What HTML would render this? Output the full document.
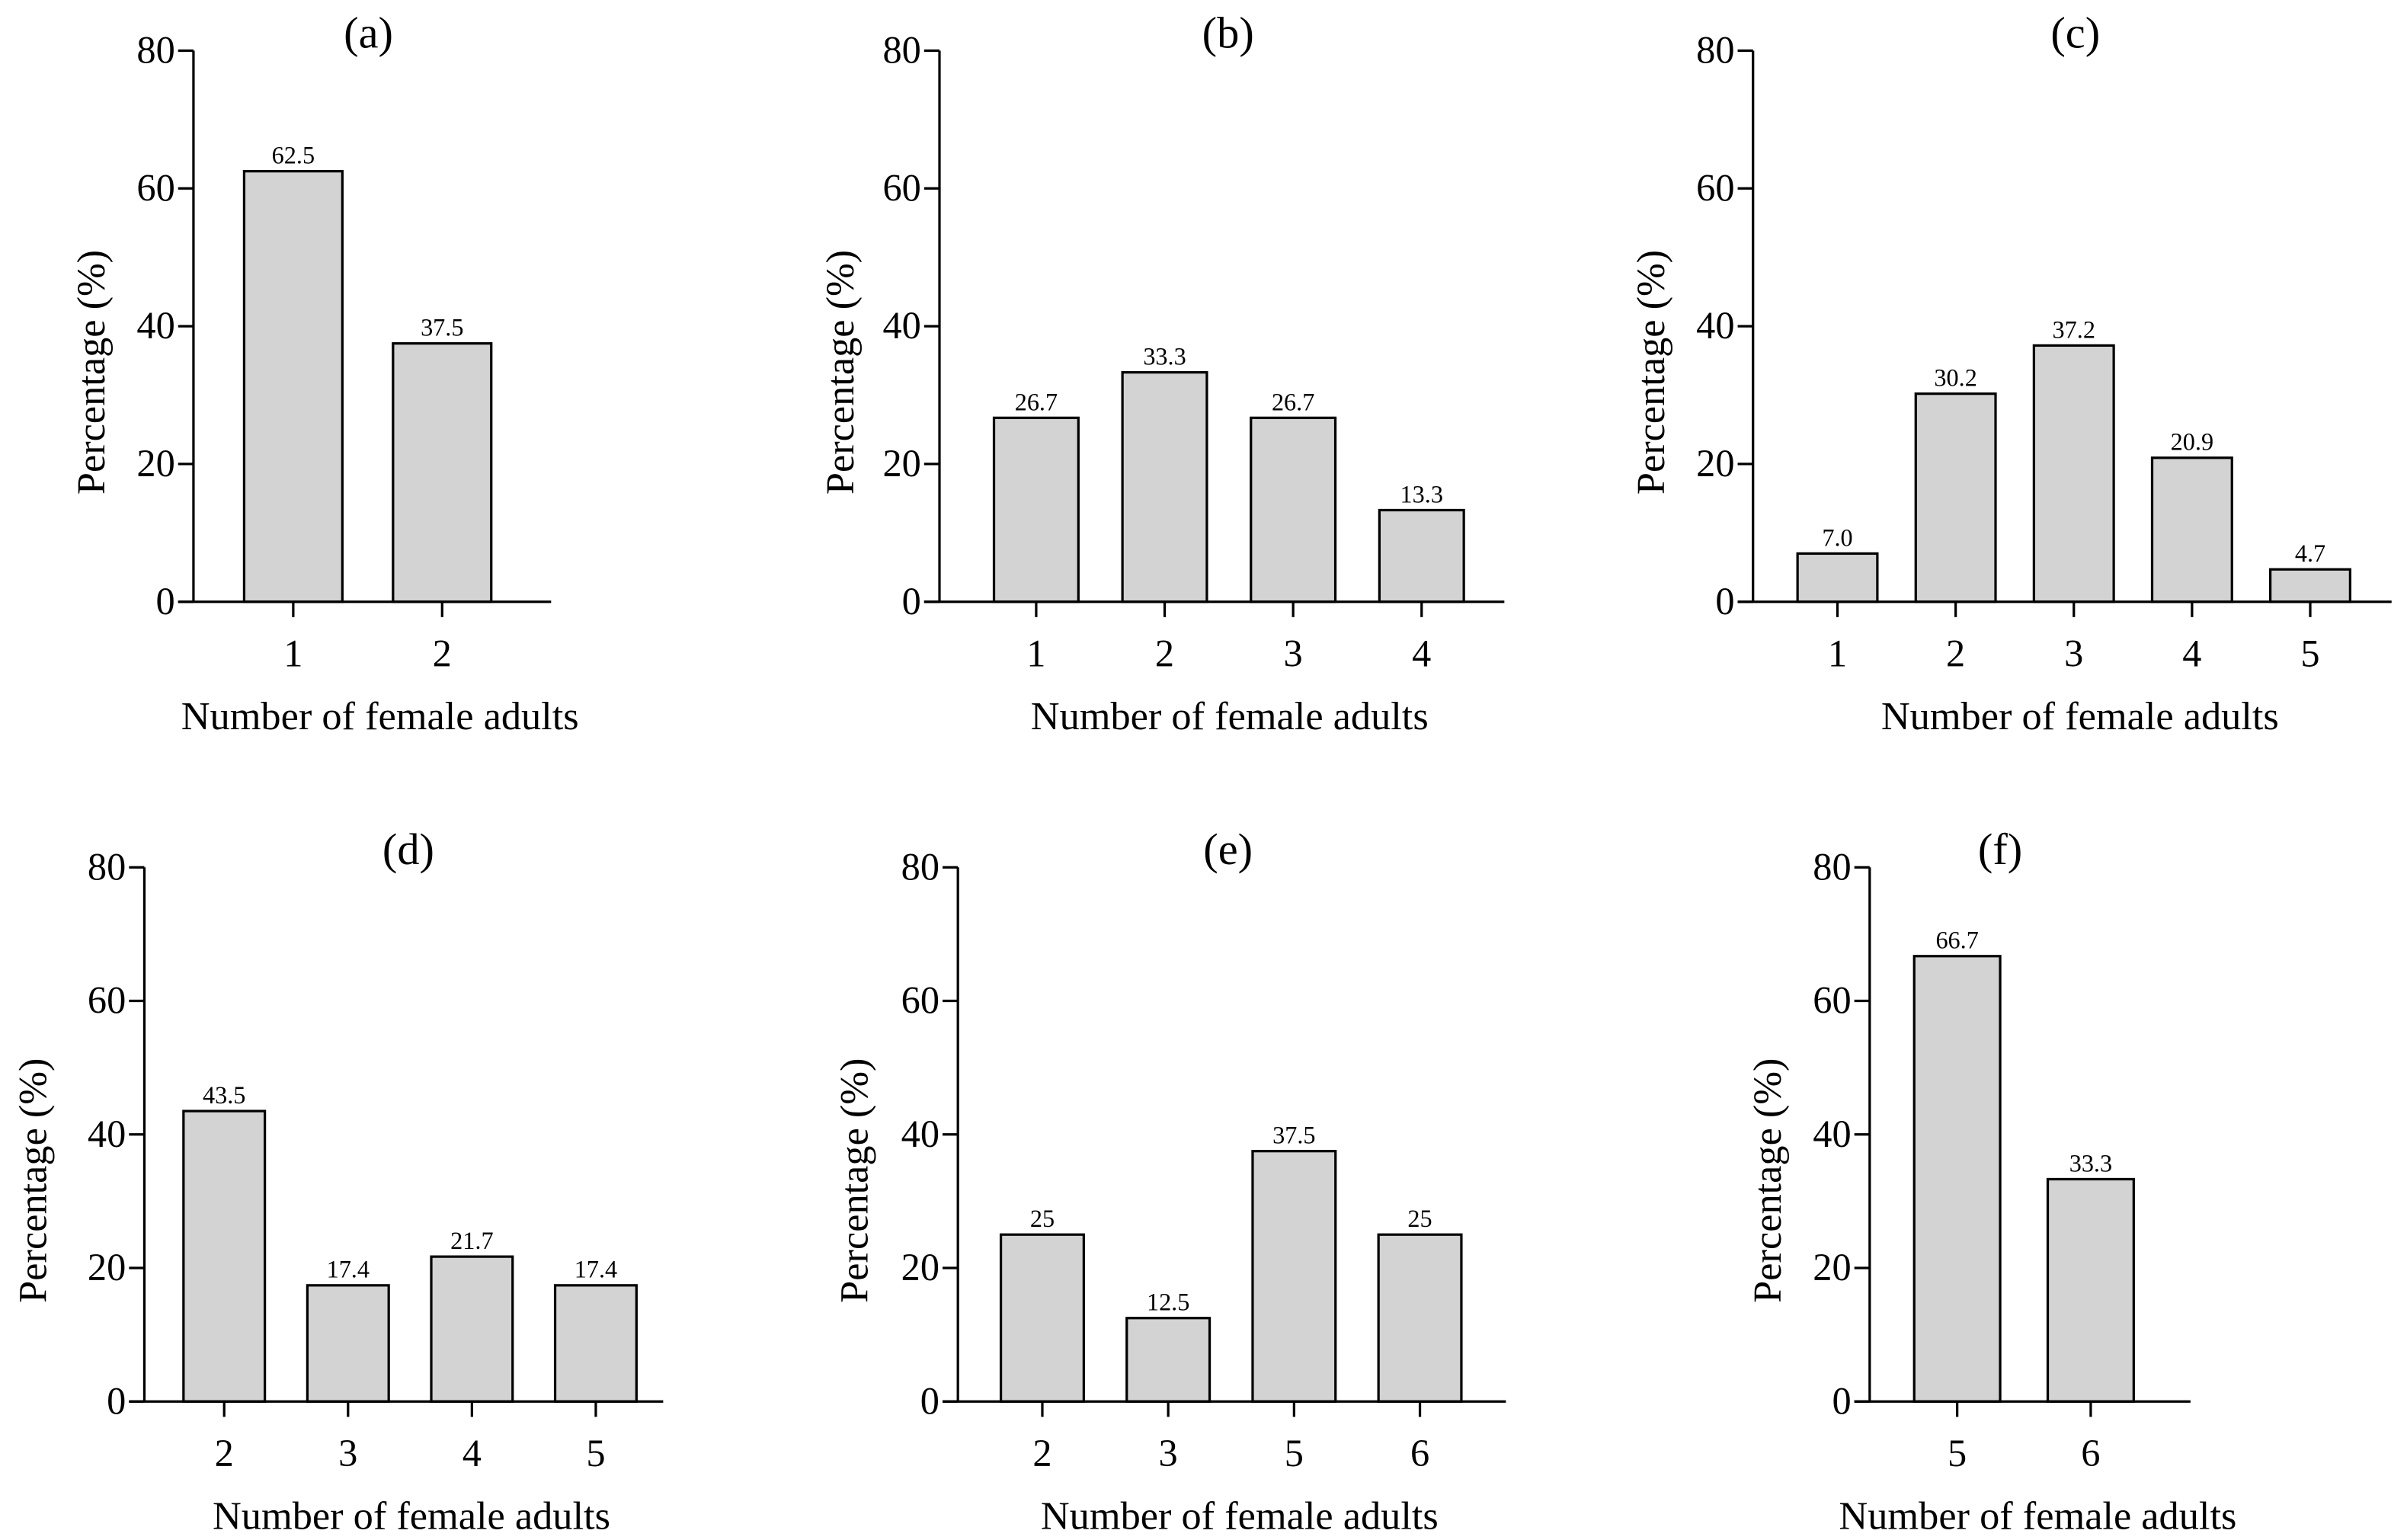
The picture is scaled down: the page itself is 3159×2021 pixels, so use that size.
<!DOCTYPE html>
<html><head><meta charset="utf-8"><style>
html,body{margin:0;padding:0;background:#fff}
svg{display:block}
svg text{font-family:"Liberation Serif","Times New Roman",serif;fill:#000}
</style></head><body>
<svg id="fig" width="3159" height="2021" viewBox="0 0 1568 1003.2" xmlns="http://www.w3.org/2000/svg" font-family="Liberation Serif, serif"></svg>
<script>
// ---- data ----
const catsA = ["1","2"];            const valsA = [62.5,37.5];            const labsA = ["62.5","37.5"];
const catsB = ["1","2","3","4"];    const valsB = [26.7,33.3,26.7,13.3];  const labsB = ["26.7","33.3","26.7","13.3"];
const catsC = ["1","2","3","4","5"];const valsC = [7.0,30.2,37.2,20.9,4.7];const labsC = ["7.0","30.2","37.2","20.9","4.7"];
const catsD = ["2","3","4","5"];    const valsD = [43.5,17.4,21.7,17.4];  const labsD = ["43.5","17.4","21.7","17.4"];
const catsE = ["2","3","5","6"];    const valsE = [25,12.5,37.5,25];      const labsE = ["25","12.5","37.5","25"];
const catsF = ["5","6"];            const valsF = [66.7,33.3];            const labsF = ["66.7","33.3"];
const yTicks = [0,20,40,60,80];

// ---- layout (not data) ----
const panels = [
 {id:"a",cats:catsA,vals:valsA,labs:labsA,ax:126,end:359,off:65,step:97,bw:64,y0:392,y80:33,title:240,ytx:60},
 {id:"b",cats:catsB,vals:valsB,labs:labsB,ax:612,end:980,off:63,step:83.7,bw:55,y0:392,y80:33,title:800,ytx:548},
 {id:"c",cats:catsC,vals:valsC,labs:labsC,ax:1142,end:1558,off:55,step:77,bw:52,y0:392,y80:33,title:1352,ytx:1076},
 {id:"d",cats:catsD,vals:valsD,labs:labsD,ax:94,end:432,off:52,step:80.7,bw:53,y0:913,y80:565,title:266,ytx:22},
 {id:"e",cats:catsE,vals:valsE,labs:labsE,ax:624,end:981,off:55,step:82,bw:54,y0:913,y80:565,title:800,ytx:557},
 {id:"f",cats:catsF,vals:valsF,labs:labsF,ax:1218,end:1427,off:57,step:87,bw:56,y0:913,y80:565,title:1303,ytx:1152}
];
const NS="http://www.w3.org/2000/svg";
const svg=document.getElementById("fig");
const FF='"Liberation Serif", serif';
function mk(tag,attrs,parent,txt){const e=document.createElementNS(NS,tag);for(const k in attrs)e.setAttribute(k,attrs[k]);if(tag==="text")e.setAttribute("font-family",FF);if(txt!==undefined)e.textContent=txt;parent.appendChild(e);return e;}
panels.forEach(p=>{
  const g=mk("g",{},svg);
  
  
  const ys=v=>p.y0-(v/80)*(p.y0-p.y80);
  const xs=i=>p.ax+p.off+i*p.step;
  p.vals.forEach((v,i)=>{
    const r=mk("rect",{x:xs(i)-p.bw/2,y:ys(v),width:p.bw,height:p.y0-ys(v),fill:"#d3d3d3",stroke:"#000","stroke-width":1.6},g);
    
    
    const t=mk("text",{x:xs(i),y:ys(v)-5,"text-anchor":"middle","font-size":16},g,p.labs[i]);
    
    
    const tk=mk("line",{x1:xs(i),x2:xs(i),y1:p.y0,y2:p.y0+10,stroke:"#000","stroke-width":1.6},g);
    
    
    const tl=mk("text",{x:xs(i),y:p.y0+42,"text-anchor":"middle","font-size":25},g,p.cats[i]);
    
    
  });
  const ya=mk("line",{x1:p.ax,x2:p.ax,y1:p.y80,y2:p.y0,stroke:"#000","stroke-width":1.6},g);
  
  
  const xa=mk("line",{x1:p.ax-10,x2:p.end,y1:p.y0,y2:p.y0,stroke:"#000","stroke-width":1.6},g);
  
  
  yTicks.forEach(t=>{
    const l=mk("line",{x1:p.ax-10,x2:p.ax,y1:ys(t),y2:ys(t),stroke:"#000","stroke-width":1.6},g);
    
    
    const tx=mk("text",{x:p.ax-12,y:ys(t)+8,"text-anchor":"end","font-size":25},g,String(t));
    
    
  });
  const ti=mk("text",{x:p.title,y:p.y80-2,"text-anchor":"middle","font-size":29},g,"("+p.id+")");
  
  
  const xt=mk("text",{x:(p.ax+p.end)/2+5,y:p.y0+83,"text-anchor":"middle","font-size":26},g,"Number of female adults");
  
  
  const cy=(p.y0+p.y80)/2+30;
  const yt=mk("text",{x:p.ytx+8,y:cy,"text-anchor":"middle","font-size":26,transform:"rotate(-90 "+(p.ytx+8)+" "+cy+")"},g,"Percentage (%)");
  
  
});
</script>
</body></html>
